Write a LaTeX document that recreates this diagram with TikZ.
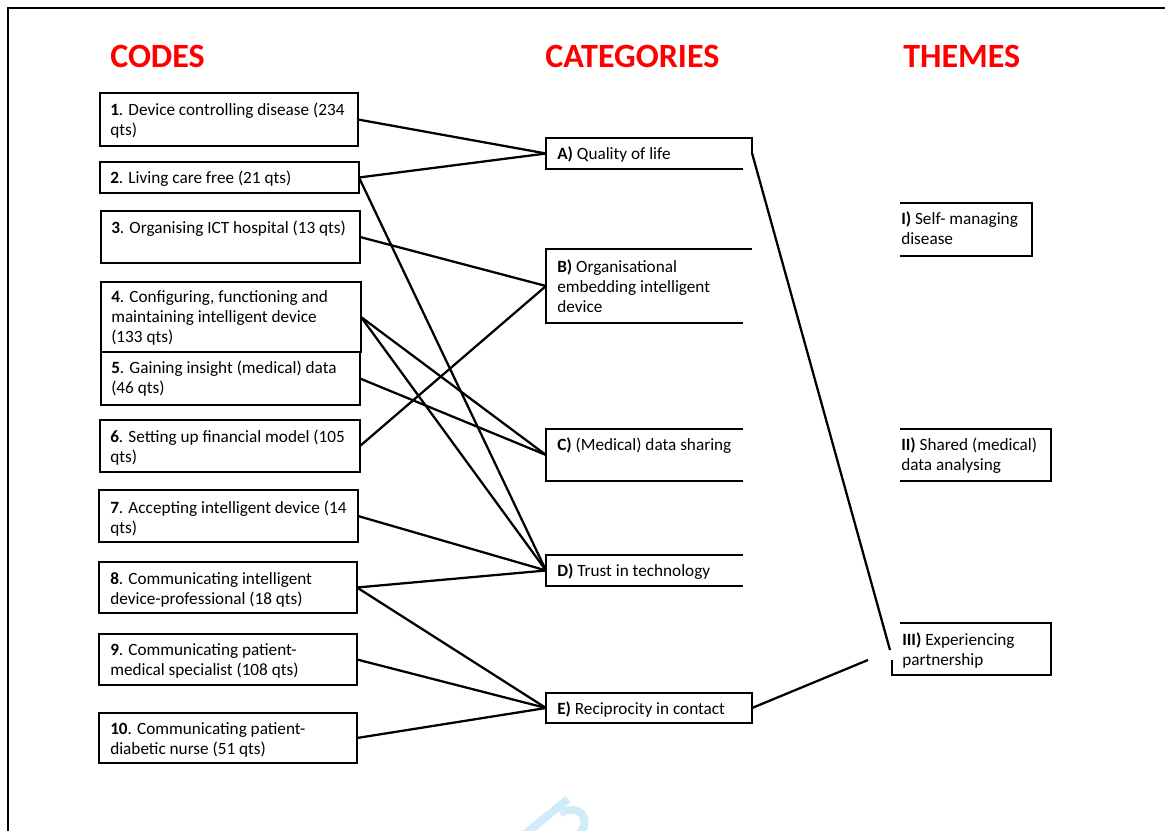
\documentclass[tikz,border=0pt]{standalone}
\usepackage{fontspec}
\setmainfont{Carlito}
\usetikzlibrary{fit,calc}
\definecolor{titlered}{RGB}{255,0,0}
\definecolor{wmblue}{RGB}{208,236,250}
\begin{document}
\begin{tikzpicture}[x=0.75pt,y=-0.75pt,
  frame/.style={line width=1.9pt},
  conn/.style={line width=1.7pt},
  pageline/.style={line width=1pt},
  area/.style={inner sep=0pt, outer sep=0pt},
  boxed/.style={area, draw, line width=1.9pt},
  txt/.style={anchor=north west, inner sep=0pt, align=left, font=\fontsize{12.9}{15}\selectfont},
  title/.style={anchor=base west, inner sep=0pt, text=titlered, font=\fontsize{25.5}{30}\selectfont\bfseries}]
\useasboundingbox (0,0) rectangle (1165,831);
\fill[white] (0,0) rectangle (1165,831);
% page border
\coordinate (pgA) at (8,831);
\coordinate (pgB) at (8,8);
\coordinate (pgC) at (1165,8);
\draw[pageline] (pgA) -- (pgB) -- (pgC);

% titles
\node[title] (tcodes) at (110,68) {CODES};
\node[title] (tcat) at (545,68) {CATEGORIES};
\node[title] (tthemes) at (903,68) {THEMES};

% code boxes
\node[boxed, fit={(100,93) (358,146)}] (c1) {};
\node[boxed, fit={(100,162) (359,193)}] (c2) {};
\node[boxed, fit={(101,211) (360,263)}] (c3) {};
\node[boxed, fit={(101,282) (361,352)}] (c4) {};
\node[boxed, fit={(101,352) (360,405)}] (c5) {};
\node[boxed, fit={(100,420) (360,472)}] (c6) {};
\node[boxed, fit={(99,490) (358,542)}] (c7) {};
\node[boxed, fit={(99,562) (357,613)}] (c8) {};
\node[boxed, fit={(99,634) (357,685)}] (c9) {};
\node[boxed, fit={(99,713) (357,763)}] (c10) {};

\node[txt] (c1t) at (110,101) {\strut\textbf{1}. Device controlling disease (234\\qts)};
\node[txt] (c2t) at (110,169) {\strut\textbf{2}. Living care free (21 qts)};
\node[txt] (c3t) at (111,219) {\strut\textbf{3}. Organising ICT hospital (13 qts)};
\node[txt] (c4t) at (111,288) {\strut\textbf{4}. Configuring, functioning and\\maintaining intelligent device\\(133 qts)};
\node[txt] (c5t) at (111,359) {\strut\textbf{5}. Gaining insight (medical) data\\(46 qts)};
\node[txt] (c6t) at (110,428) {\strut\textbf{6}. Setting up financial model (105\\qts)};
\node[txt] (c7t) at (110,499) {\strut\textbf{7}. Accepting intelligent device (14\\qts)};
\node[txt] (c8t) at (110,570) {\strut\textbf{8}. Communicating intelligent\\device-professional (18 qts)};
\node[txt] (c9t) at (110,641) {\strut\textbf{9}. Communicating patient-\\medical specialist (108 qts)};
\node[txt] (c10t) at (110,720) {\strut\textbf{10}. Communicating patient-\\diabetic nurse (51 qts)};

% category areas
\node[area, fit={(546,138) (752,169)}] (A) {};
\node[area, fit={(546,249) (752,323)}] (B) {};
\node[area, fit={(546,429) (743,481)}] (C) {};
\node[area, fit={(546,555) (743,586)}] (D) {};
\node[boxed, fit={(546,693) (752,723)}] (E) {};

\draw[frame] ($(A.north east)+(0,15)$) -- (A.north east) -- (A.north west) -- (A.south west) -- ($(A.south east)+(-9,0)$);
\draw[frame] (B.north east) -- (B.north west) -- (B.south west) -- ($(B.south east)+(-9,0)$);
\draw[frame] (C.north east) -- (C.north west) -- (C.south west) -- (C.south east);
\draw[frame] (D.north east) -- (D.north west) -- (D.south west) -- (D.south east);

\node[txt] (At) at (557,145) {\strut\textbf{A)} Quality of life};
\node[txt] (Bt) at (557,258) {\strut\textbf{B)} Organisational\\embedding intelligent\\device};
\node[txt] (Ct) at (557,436) {\strut\textbf{C)} (Medical) data sharing};
\node[txt] (Dt) at (557,562) {\strut\textbf{D)} Trust in technology};
\node[txt] (Et) at (557,700) {\strut\textbf{E)} Reciprocity in contact};

% theme areas
\node[area, fit={(900,203) (1032,256)}] (T1) {};
\node[area, fit={(900,429) (1051,481)}] (T2) {};
\node[area, fit={(892,623) (1051,675)}] (T3) {};
\draw[frame] (T1.north west) -- (T1.north east) -- (T1.south east) -- (T1.south west);
\draw[frame] (T2.north west) -- (T2.north east) -- (T2.south east) -- (T2.south west);
\draw[frame] ($(T3.north west)+(8,0)$) -- (T3.north east) -- (T3.south east) -- (T3.south west) -- ($(T3.south west)+(0,-15)$);

\node[txt] (T1t) at (901,210) {\strut\textbf{I)} Self- managing\\disease};
\node[txt] (T2t) at (901,436) {\strut\textbf{II)} Shared (medical)\\data analysing};
\node[txt] (T3t) at (902,631) {\strut\textbf{III)} Experiencing\\partnership};

% connectors codes -> categories
\draw[conn] (c1.east) -- (A.west);
\draw[conn] (c2.east) -- (A.west);
\draw[conn] (c2.east) -- (D.west);
\draw[conn] (c3.east) -- (B.west);
\draw[conn] (c4.east) -- (C.west);
\draw[conn] (c4.east) -- (D.west);
\draw[conn] (c5.east) -- (C.west);
\draw[conn] (c6.east) -- (B.west);
\draw[conn] (c7.east) -- (D.west);
\draw[conn] (c8.east) -- (D.west);
\draw[conn] (c8.east) -- (E.west);
\draw[conn] (c9.east) -- (E.west);
\draw[conn] (c10.east) -- (E.west);

% connectors categories -> themes
\coordinate (Aout) at ($(A.north east)+(0,15)$);
\coordinate (T3a) at (890,650);
\coordinate (T3b) at (868,660);
\draw[conn] (Aout) -- (T3a);
\draw[conn] (E.east) -- (T3b);

% watermark fragment
\draw[wmblue, line width=6pt] (525,834) -- (568,799);
\draw[wmblue, line width=6pt] (560,813) .. controls (578,804) and (592,816) .. (580,834);
\end{tikzpicture}
\end{document}
